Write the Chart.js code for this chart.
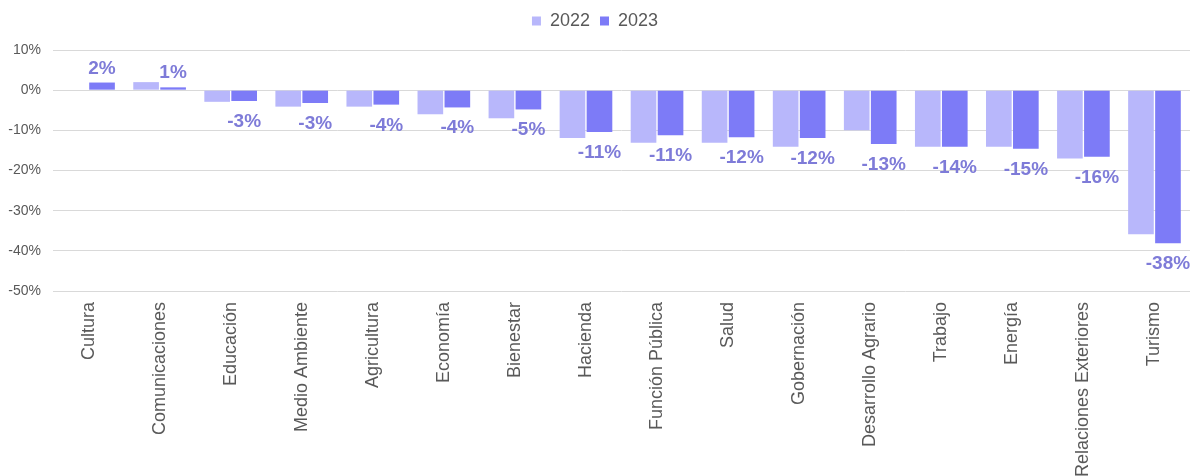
<!DOCTYPE html>
<html>
<head>
<meta charset="utf-8">
<script src="https://cdn.jsdelivr.net/npm/chart.js@4"></script>
<style>
html,body{margin:0;padding:0;background:#fff;}
#wrap{width:1190px;height:476px;position:relative;}
</style>
</head>
<body>
<div id="wrap"><canvas id="c"></canvas></div>
<script>
const categories = ['Cultura','Comunicaciones','Educación','Medio Ambiente','Agricultura','Economía','Bienestar','Hacienda','Función Pública','Salud','Gobernación','Desarrollo Agrario','Trabajo','Energía','Relaciones Exteriores','Turismo'];
const values2022 = [0, 2.0, -2.9, -4.1, -4.1, -6.0, -7.0, -11.9, -13.1, -13.1, -14.1, -10.0, -14.1, -14.1, -17.0, -35.9];
const values2023 = [1.9, 0.7, -2.7, -3.2, -3.6, -4.3, -4.8, -10.4, -11.2, -11.7, -11.9, -13.4, -14.1, -14.6, -16.6, -38.1];
const labels2023 = ['2%','1%','-3%','-3%','-4%','-4%','-5%','-11%','-11%','-12%','-12%','-13%','-14%','-15%','-16%','-38%'];
const yTicks = [10, 0, -10, -20, -30, -40, -50];

const FONT = '"Liberation Sans", Arial, sans-serif';

const labelPlugin = {
  id: 'barLabels',
  afterInit(chart) {
    const legend = chart.legend;
    if (legend) {
      const origFit = legend.fit;
      legend.fit = function () {
        origFit.call(this);
        this.height = 48;
      };
    }
  },
  afterDatasetsDraw(chart) {
    const ctx = chart.ctx;
    const meta = chart.getDatasetMeta(1);
    ctx.save();
    ctx.font = 'bold 19px ' + FONT;
    ctx.fillStyle = '#7e7bd8';
    ctx.textAlign = 'center';
    ctx.textBaseline = 'alphabetic';
    meta.data.forEach((bar, i) => {
      const v = values2023[i];
      const y = v >= 0 ? bar.y - 9 : bar.y + 26;
      ctx.fillText(labels2023[i], bar.x, y);
    });
    ctx.restore();
  }
};

new Chart(document.getElementById('c'), {
  type: 'bar',
  data: {
    labels: categories,
    datasets: [
      { label: '2022', data: values2022, backgroundColor: '#b8b7fb', borderWidth: 0 },
      { label: '2023', data: values2023, backgroundColor: '#7d7bf7', borderWidth: 0 }
    ]
  },
  options: {
    responsive: true,
    maintainAspectRatio: false,
    animation: false,
    layout: { padding: { top: 2, right: 0, left: 0, bottom: 0 } },
    plugins: {
      legend: {
        position: 'top',
        align: 'center',
        labels: {
          boxWidth: 9, boxHeight: 9, font: { family: FONT, size: 18 }, color: '#595959', padding: 10
        }
      },
      tooltip: { enabled: false }
    },
    datasets: { bar: { categoryPercentage: 0.76, barPercentage: 0.95 } },
    scales: {
      x: {
        grid: { display: false, drawTicks: false },
        border: { display: false },
        ticks: {
          minRotation: 90, maxRotation: 90, autoSkip: false, padding: 11,
          font: { family: FONT, size: 18 }, color: '#595959'
        },
        afterFit(s) { s.height = 185; }
      },
      y: {
        min: -50, max: 10,
        afterBuildTicks(s) { s.ticks = yTicks.map(v => ({ value: v })); },
        grid: { color: '#d9d9d9', drawTicks: false, lineWidth: 1 },
        border: { display: false },
        ticks: {
          padding: 12,
          font: { family: FONT, size: 14 }, color: '#595959',
          callback: v => v + '%'
        },
        afterFit(s) { s.width = 53; }
      }
    }
  },
  plugins: [labelPlugin]
});
</script>
</body>
</html>
